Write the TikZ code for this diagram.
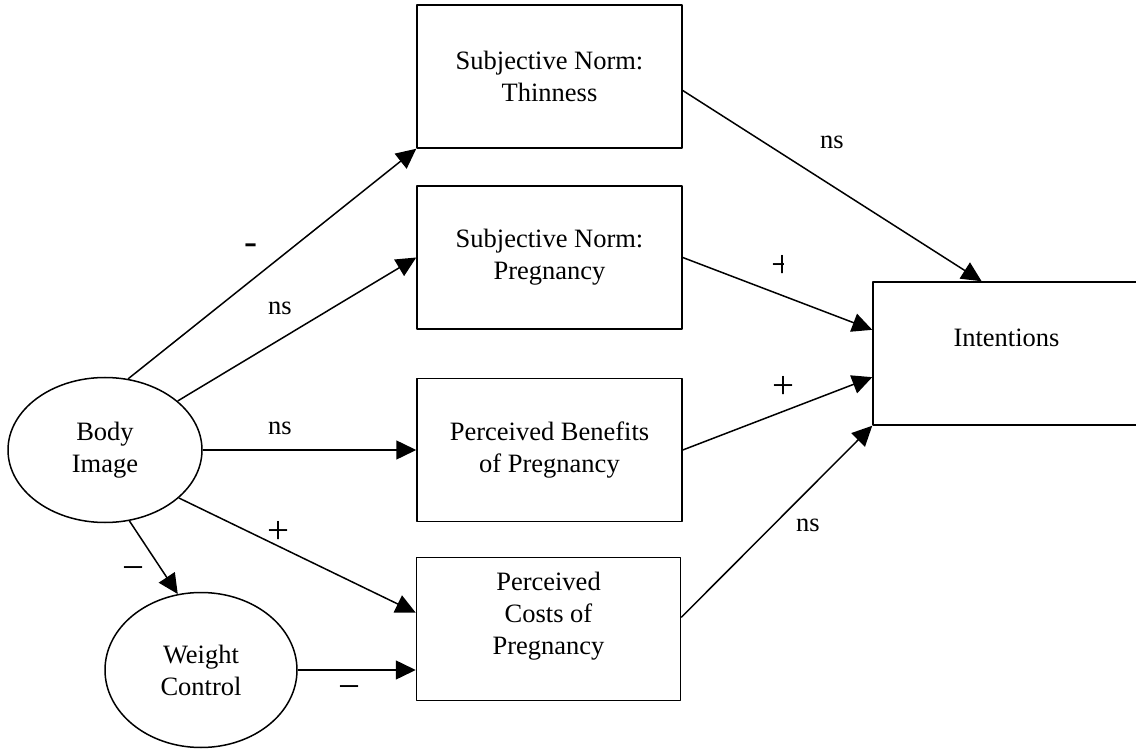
\documentclass[tikz,border=0pt]{standalone}
\usepackage{fontspec}
\setmainfont{Liberation Serif}
\usetikzlibrary{arrows.meta,shapes.geometric}

\begin{document}
\begin{tikzpicture}[x=1pt,y=-1pt,>={Triangle[length=20pt,width=19pt]},line join=round,
  every node/.style={font=\fontsize{26.5}{32}\selectfont},
  box/.style={draw,line width=1.5pt,rectangle,align=center,inner sep=0pt,minimum width=265pt,minimum height=143pt},
  oval/.style={draw,line width=1.5pt,ellipse,align=center,inner sep=0pt},
  link/.style={->,line width=1.5pt},
  sign/.style={font=\fontsize{39}{40}\selectfont,inner sep=0pt,text height=20pt,text depth=0pt}]
  \useasboundingbox (0,0) rectangle (1136,751);
  \node[oval,minimum width=194pt,minimum height=145pt] (body) at (105,450) {Body\\Image};
  \node[oval,minimum width=192pt,minimum height=155pt] (weight) at (201,670) {Weight\\Control};
  \node[box] (thin) at (549.5,76.5) {Subjective Norm:\\Thinness};
  \node[box] (preg) at (549.5,257.5) {Subjective Norm:\\Pregnancy};
  \node[box] (ben) at (549.5,450) {Perceived Benefits\\of Pregnancy};
  \node[box,minimum width=264pt] (cost) at (548.5,629) {Perceived\\Costs of\\Pregnancy\\\mbox{}};
  \node[box,minimum width=267pt] (int) at (1006.5,353.5) {Intentions\\\mbox{}};
  \draw[link] (body.72) -- (thin.south west);
  \draw[link] (body.34) -- (preg.west);
  \draw[link] (body.east) -- (ben.west);
  \draw[link] (body.-33) -- (cost.173);
  \draw[link] (body.-71) -- (weight.107);
  \draw[link] (weight.east) -- (weight.east -| cost.west);
  \draw[link] (thin.-6) -- (int.109);
  \draw[link] (preg.east) -- (int.170);
  \draw[link] (ben.east) -- (int.190);
  \draw[link] (cost.5) -- (int.south west);
  \node[sign] (m1) at (250.5,245) {-};
  \node (n1) at (280,308) {ns};
  \node (n2) at (280,428) {ns};
  \node[sign] (p1) at (278.5,533) {+};
  \node[sign] (m2) at (133.5,570) {−};
  \node[sign] (m3) at (349,689) {−};
  \node (n3) at (832,142) {ns};
  \begin{scope}
    \clip (770,250) rectangle (783.5,286);
    \node[sign] (p2) at (782,268) {+};
  \end{scope}
  \node[sign] (p3) at (783,388.5) {+};
  \node (n4) at (808,525) {ns};
\end{tikzpicture}
\end{document}
